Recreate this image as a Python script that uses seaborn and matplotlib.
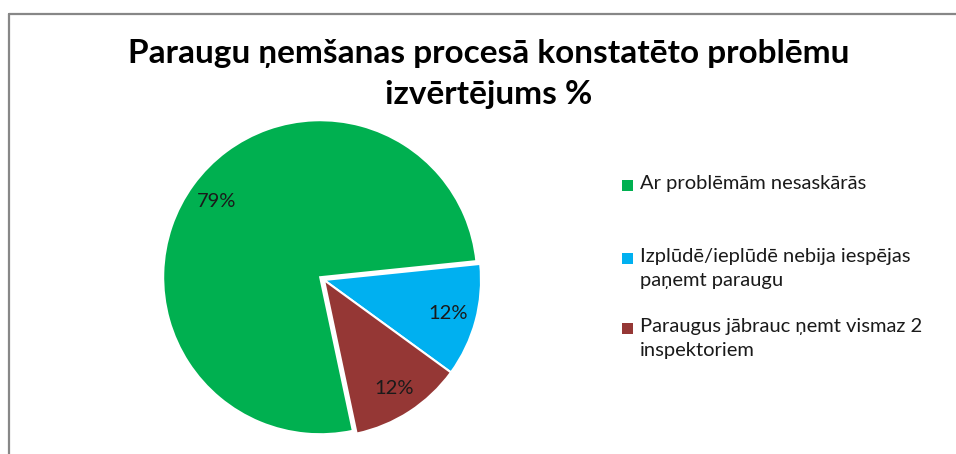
import matplotlib
matplotlib.use('Agg')
import matplotlib.pyplot as plt
import seaborn as sns
from matplotlib.lines import Line2D
from matplotlib.patches import Rectangle

sns.set_theme(style='white')
plt.rcParams['font.family'] = ['Lato', 'DejaVu Sans']

# data
categories = ['Ar problēmām nesaskārās',
              'Izplūdē/ieplūdē nebija iespējas\npaņemt paraugu',
              'Paraugus jābrauc ņemt vismaz 2\ninspektoriem']
values = [79, 12, 12]
pct_labels = ['79%', '12%', '12%']
colors = ['#00B050', '#00B0F0', '#953735']
title = 'Paraugu ņemšanas procesā konstatēto problēmu\nizvērtējums %'

W, H = 956, 454
fig = plt.figure(figsize=(W / 100, H / 100), dpi=100)
fig.patch.set_facecolor('white')

# pie axes (square), centre ~ (324, 280) px, radius ~157 px
r_px = 157
half = r_px * 1.1
cx, cy = 324, H - 280
ax = fig.add_axes([(cx - half) / W, (cy - half) / H, 2 * half / W, 2 * half / H])
wedges, texts = ax.pie(values, colors=colors, startangle=-78, counterclock=False,
                       explode=[0.03, 0, 0], labels=pct_labels, labeldistance=0.82,
                       wedgeprops=dict(edgecolor='white', linewidth=1.5),
                       textprops=dict(fontsize=14.5, color='#1a1a1a', ha='center', va='center'))
ax.set_xlim(-1.1, 1.1)
ax.set_ylim(-1.1, 1.1)
ax.set_aspect('equal')
ax.axis('off')

# title
fig.text(489 / W, 1 - 74 / H, title, ha='center', va='center', fontsize=24,
         fontweight='bold', color='black', linespacing=1.52)

# legend (squares aligned with first line of each entry)
leg_y = [185, 258, 328]
for lab, col, y in zip(categories, colors, leg_y):
    fig.patches.append(Rectangle((622 / W, 1 - (y + 6) / H), 11 / W, 11 / H,
                                 transform=fig.transFigure, facecolor=col,
                                 edgecolor='none', figure=fig))
    fig.text(640 / W, 1 - (y - 10) / H, lab, ha='left', va='top', fontsize=14.5,
             color='#1a1a1a', linespacing=1.5)

# chart border (left and top)
fig.add_artist(Line2D([8.5 / W, 8.5 / W], [0, 1 - 14 / H], color='#878787', lw=1.6))
fig.add_artist(Line2D([8.5 / W, 1], [1 - 14 / H, 1 - 14 / H], color='#878787', lw=1.6))

fig.savefig('out.png', dpi=100, facecolor='white')
